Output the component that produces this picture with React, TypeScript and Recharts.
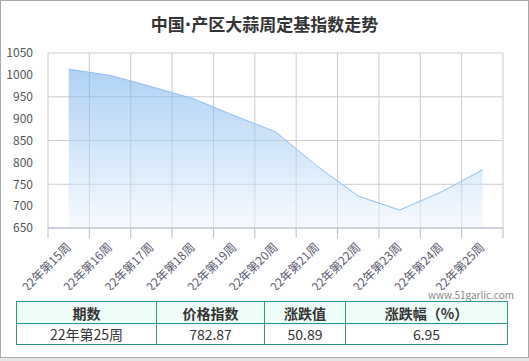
import { AreaChart, Area, XAxis, YAxis, CartesianGrid } from 'recharts'

const weeks = ['22年第15周', '22年第16周', '22年第17周', '22年第18周', '22年第19周', '22年第20周', '22年第21周', '22年第22周', '22年第23周', '22年第24周', '22年第25周']
const indexValues = [1013, 999, 973, 946, 907, 870, 792, 723, 691, 731.98, 782.87]
const yTicks = [650, 700, 750, 800, 850, 900, 950, 1000, 1050]
const tableHead = ['期数', '价格指数', '涨跌值', '涨跌幅（%）']
const tableRow = ['22年第25周', '782.87', '50.89', '6.95']

const data = weeks.map((w, i) => ({ x: i + 0.5, week: w, value: indexValues[i] }))
const bandEdges = weeks.map((_, i) => i).concat(weeks.length)

const FONT = '"Noto Sans CJK SC", "Microsoft YaHei", sans-serif'
const CHART_W = 529
const MARGIN = { top: 53, right: 26, left: 8, bottom: 3 }
const Y_W = 40
const BAND = (CHART_W - MARGIN.left - MARGIN.right - Y_W) / weeks.length

// ticks sit on band edges; each label is drawn at the middle of the band after it
function WeekTick({ x, y, payload }: any) {
  const label = weeks[payload.value]
  if (!label) return <g />
  return (
    <g transform={`translate(${x + BAND / 2 + 3},${y + 8})`}>
      <text transform="rotate(-45)" textAnchor="end" fontSize={12} fill="#5a5a6e" fontFamily={FONT}>
        {label}
      </text>
    </g>
  )
}

export default function App() {
  const colW = [140, 108, 81, 162]
  return (
    <div style={{ position: 'absolute', left: 0, top: 0, width: 529, height: 361, background: '#e6e6e6', fontFamily: FONT }}>
      <style>{'body{margin:0}'}</style>
      <div style={{ position: 'absolute', left: 0, top: 0, width: 529, height: 358, boxSizing: 'border-box', border: '1px solid #a8a8a8', background: '#fff' }}>
        <div style={{ position: 'absolute', left: 0, top: 10, width: 527, textAlign: 'center', fontSize: 17, fontWeight: 'bold', color: '#333' }}>
          中国<span style={{ fontFamily: '"DejaVu Sans", sans-serif' }}>·</span>产区大蒜周定基指数走势
        </div>
        <div style={{ position: 'absolute', left: -1, top: -1 }}>
          <AreaChart width={CHART_W} height={290} data={data} margin={MARGIN}>
            <defs>
              <linearGradient id="areaFill" x1="0" y1="0" x2="0" y2="1">
                <stop offset="0%" stopColor="#6aaaea" stopOpacity={0.9} />
                <stop offset="100%" stopColor="#eef5fd" stopOpacity={0.85} />
              </linearGradient>
            </defs>
            <CartesianGrid stroke="#cccccc" />
            <XAxis
              type="number"
              dataKey="x"
              domain={[0, weeks.length]}
              ticks={bandEdges}
              interval={0}
              height={59}
              tickSize={10}
              axisLine={{ stroke: '#b4bfcf' }}
              tickLine={{ stroke: '#b4bfcf' }}
              tick={<WeekTick />}
            />
            <YAxis
              domain={[650, 1050]}
              ticks={yTicks}
              width={Y_W}
              axisLine={false}
              tickLine={false}
              tickSize={6}
              tickMargin={9}
              tick={{ fontSize: 12, fill: '#555', fontFamily: FONT }}
            />
            <Area
              type="linear"
              dataKey="value"
              baseValue={650}
              stroke="#8cc0f2"
              strokeWidth={1}
              fill="url(#areaFill)"
              isAnimationActive={false}
              dot={false}
              activeDot={false}
            />
          </AreaChart>
        </div>
        <div style={{ position: 'absolute', right: 14, top: 286, fontSize: 10, color: '#888' }}>www.51garlic.com</div>
        <table style={{ position: 'absolute', left: 15, top: 300, width: 492, borderCollapse: 'collapse', fontSize: 14, color: '#333', tableLayout: 'fixed' }}>
          <colgroup>
            {colW.map((w, i) => <col key={i} style={{ width: w }} />)}
          </colgroup>
          <tbody>
            <tr style={{ background: '#effdf9', height: 22 }}>
              {tableHead.map(h => (
                <td key={h} style={{ border: '1px solid #2f958c', textAlign: 'center', fontWeight: 'bold', padding: 0 }}>{h}</td>
              ))}
            </tr>
            <tr style={{ height: 21 }}>
              {tableRow.map((c, i) => (
                <td key={i} style={{ border: '1px solid #2f958c', textAlign: 'center', padding: 0 }}>{c}</td>
              ))}
            </tr>
          </tbody>
        </table>
      </div>
    </div>
  )
}
